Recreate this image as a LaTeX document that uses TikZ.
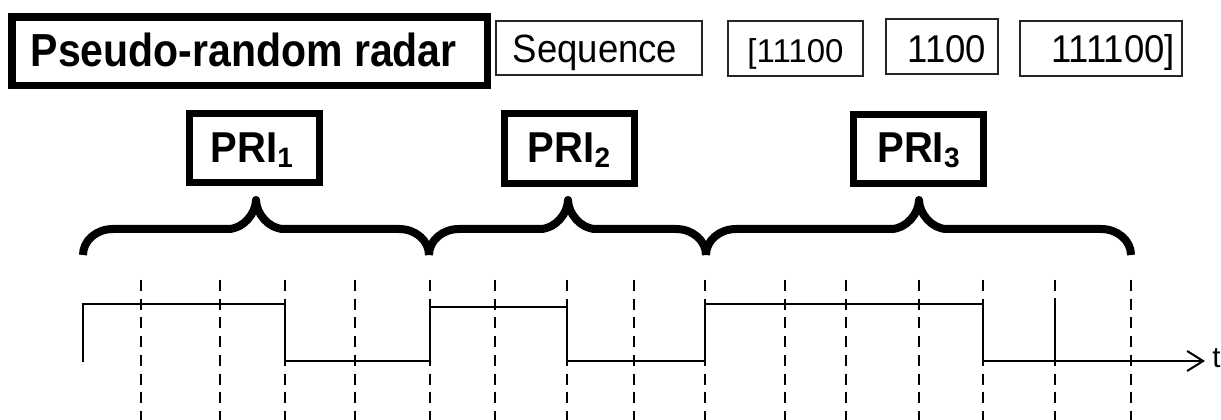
\documentclass[tikz,border=0pt]{standalone}
\usepackage{graphicx}
\usepackage{fontspec}
\setmainfont{Liberation Sans}
\usetikzlibrary{arrows.meta}
\newcommand\vstretch[2]{\scalebox{1}[#1]{#2}}
\newcommand\prbrace[3]{%
  \draw[bracestyle] (#1,255) .. controls (#1,240.6) and ({#1+13.4},229) .. ({#1+30},229)
    -- ({#2-28},229) .. controls ({#2-12.5},229) and (#2,213) .. (#2,200)
    .. controls (#2,213) and ({#2+12.5},229) .. ({#2+28},229)
    -- ({#3-30},229) .. controls ({#3-13.4},229) and (#3,240.6) .. (#3,255);}
\begin{document}
\begin{tikzpicture}[x=0.75pt,y=-0.75pt,
  bigbox/.style={draw,line width=5.6pt,inner sep=0pt,outer sep=0pt,
    font=\fontsize{30.75}{36}\selectfont\bfseries,text depth=0pt},
  seqbox/.style={draw=black!85,line width=1.5pt,inner sep=0pt,outer sep=0pt,
    font=\fontsize{27.4}{32}\selectfont,text depth=0pt},
  pribox/.style={draw,line width=5.25pt,inner sep=0pt,outer sep=0pt,
    minimum width=97.5pt,minimum height=51.75pt,
    font=\fontsize{30}{36}\selectfont\bfseries,text height=22.5pt,text depth=0pt},
  bracestyle/.style={line width=6pt,line join=round},
  slot/.style={line width=2pt,dash pattern=on 8.25pt off 5.8pt},
  wave/.style={line width=1.5pt},
]
\useasboundingbox (0,0) rectangle (1221,420);
% top row
\node[bigbox,minimum width=356.6pt,minimum height=51.4pt,text height=23.2pt] (title) at (249.75,51.25) {\vstretch{1.13}{Pseudo-random radar}\hspace*{9pt}};
\node[seqbox,minimum width=154.5pt,minimum height=40.5pt,text height=21.75pt] (seq) at (599,48) {\vstretch{1.08}{Sequence}\hspace*{6pt}};
\node[seqbox,minimum width=101.25pt,minimum height=41.25pt,text height=21pt,font=\fontsize{24.75}{30}\selectfont] (b1) at (795.5,48.5) {[11100};
\node[seqbox,minimum width=84pt,minimum height=41.25pt,text height=24.5pt] (b2) at (942,46.5) {\hspace*{7.5pt}\vstretch{1.06}{1100}};
\node[seqbox,minimum width=121.5pt,minimum height=41.25pt,text height=21.3pt] (b3) at (1101,48.5) {\hspace*{18pt}\vstretch{1.06}{111100]}};
% PRI labels
\node[pribox] (p1) at (254.5,148) {\vstretch{1.08}{PRI}\raisebox{-3.75pt}{\fontsize{21}{21}\selectfont 1}\hspace*{4pt}};
\node[pribox,minimum height=52.5pt,text height=21.75pt] (p2) at (569,148.5) {\vstretch{1.08}{PRI}\raisebox{-3.75pt}{\fontsize{21}{21}\selectfont 2}};
\node[pribox,text height=21pt] (p3) at (918.5,149) {\vstretch{1.08}{PRI}\raisebox{-3.75pt}{\fontsize{21}{21}\selectfont 3}};
% braces
\prbrace{83}{256}{429}
\prbrace{429}{568}{706}
\prbrace{706}{919}{1131}
% slot lines
\foreach \x [count=\i] in {141,220,285,355,430,495,567,634,705,785,846,919,983,1055,1131}{
  \coordinate (s\i a) at (\x,280);
  \coordinate (s\i b) at (\x,420);
  \draw[slot] (s\i a) -- (s\i b);
}
% waveform
\node[font=\fontsize{22}{26}\selectfont,inner sep=0pt,anchor=base west] (t) at (1212,368) {t};
\coordinate (axisend) at (1205,361);
\draw[wave,-{Straight Barb[length=12pt,width=15pt]}] (83,362) -- (83,304) -- (285,304) -- (285,361) -- (430,361)
  -- (430,307) -- (567,307) -- (567,361) -- (705,361) -- (705,304) -- (983,304) -- (983,361) -- (axisend);
\draw[wave] (1055,298) -- (1055,361);
\end{tikzpicture}
\end{document}
